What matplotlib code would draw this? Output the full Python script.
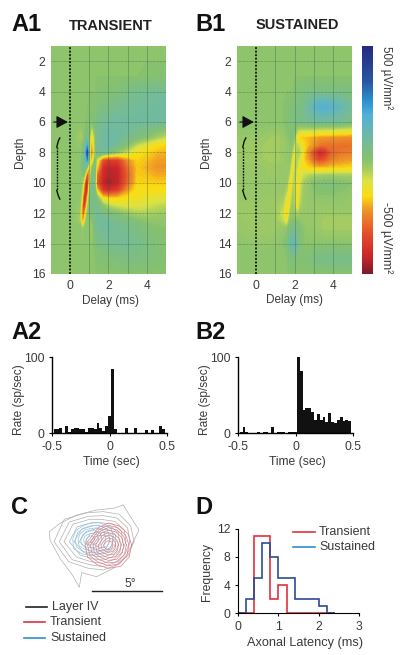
import numpy as np
import matplotlib
matplotlib.use('Agg')
import matplotlib.pyplot as plt
from matplotlib.colors import LinearSegmentedColormap, Normalize
from matplotlib.cm import ScalarMappable

plt.rcParams['font.family'] = ['Liberation Sans', 'DejaVu Sans']
plt.rcParams['text.color'] = '#3a3a3a'
plt.rcParams['xtick.labelcolor'] = '#3a3a3a'
plt.rcParams['ytick.labelcolor'] = '#3a3a3a'

W, H = 400, 655

# CSD maps (uV/mm2), rows = depth, columns = delay
depth = [1, 2, 3, 4, 5, 6, 7, 7.5, 8, 8.5, 9, 9.5, 10, 10.5, 11, 11.5, 12, 12.5, 13, 14, 15, 16]

delay_a = [-1, 0, .5, .6, .7, .8, .9, 1.0, 1.1, 1.2, 1.3, 1.4, 1.7, 2, 2.5, 3, 3.5, 4, 4.5, 5]
csd_a = [
    [0, 0, 0, 0, 0, 0, 0, 0, 0, 0, 0, 0, 0, 0, 0, 0, 0, 0, 0, 0],
    [0, 0, 0, 0, 0, 0, 0, 0, 0, 0, 0, 0, 0, 0, 0, 0, 0, 0, 0, 0],
    [0, 0, 0, 0, 0, 0, 0, 0, 0, 0, 0, 0, 0, 0, 0, 0, 0, 5, 10, 10],
    [0, 0, 0, 0, 0, 0, 0, 0, 0, 0, 0, 5, 10, 15, 25, 45, 60, 65, 70, 70],
    [0, 0, 0, 0, 0, 0, 0, 5, 5, 5, 10, 15, 35, 45, 60, 70, 80, 85, 90, 90],
    [0, 0, 0, 0, 0, 0, 5, 10, 15, 20, 30, 50, 70, 85, 90, 90, 85, 85, 85, 80],
    [0, 0, -40, -50, -20, 20, 60, -30, -160, -130, -20, 60, 90, 100, 90, 60, 30, 0, -40, -70],
    [0, 0, -20, -10, 10, 80, 200, -40, -200, -170, -30, 70, 90, 100, 60, 0, -70, -110, -150, -170],
    [0, 0, 0, 0, 20, 150, 380, -30, -270, -200, -30, 70, 70, 40, -20, -80, -140, -170, -190, -195],
    [0, 0, 0, 0, 50, 130, 250, -90, -210, -120, 10, -90, -320, -370, -360, -230, -170, -185, -210, -215],
    [0, 0, 0, 10, 60, 60, -70, -220, -60, 20, 30, -170, -400, -430, -420, -280, -180, -200, -220, -220],
    [0, 0, 0, -20, 20, -160, -370, -230, -10, 50, 0, -280, -410, -440, -430, -300, -175, -185, -200, -200],
    [0, 0, 0, -30, -120, -380, -470, -160, 30, 60, -20, -320, -430, -460, -430, -290, -165, -170, -175, -175],
    [0, 0, 0, -40, -220, -440, -380, -70, 40, 60, 20, -170, -370, -400, -360, -220, -150, -150, -150, -150],
    [0, 0, -10, -90, -360, -420, -220, -10, 40, 50, 50, 10, -150, -180, -175, -150, -135, -125, -115, -105],
    [0, 0, -20, -170, -420, -320, -90, 10, 40, 50, 60, 40, -10, -60, -90, -100, -100, -90, -70, -60],
    [0, 0, -40, -210, -320, -160, -20, 10, 30, 40, 60, 70, 50, 30, 0, -30, -50, -50, -40, -30],
    [0, 0, -40, -190, -200, -60, 0, 0, -30, 10, 50, 70, 80, 70, 50, 30, 10, -10, -10, -10],
    [0, 0, 0, -30, -30, 0, 0, 0, -50, -10, 40, 60, 80, 85, 70, 60, 40, 20, 10, 0],
    [0, 0, 0, 0, 0, 0, 0, 0, -20, 0, 10, 30, 50, 60, 70, 70, 60, 40, 20, 10],
    [0, -10, 0, 0, 0, 0, 0, 0, -10, 0, 0, 10, 15, 20, 30, 40, 40, 30, 20, 10],
    [0, 0, 0, 0, 0, 0, 0, 0, 0, 0, 0, 0, 0, 0, 0, 0, 0, 0, 0, 0],
]

delay_b = [-1, 0, 1, 1.4, 1.6, 1.7, 1.8, 1.9, 2, 2.1, 2.2, 2.3, 2.5, 2.7, 3, 3.3, 3.6, 4, 4.5, 5]
csd_b = [
    [0, 0, 0, 0, 0, 0, 0, 0, 0, 0, 0, 0, 0, 0, 0, 0, 0, 0, 0, 0],
    [0, 0, 0, 0, 0, 0, 0, 0, 0, 0, 0, 0, 0, 0, 0, 0, 0, 0, 0, 0],
    [0, 0, 0, 0, 0, 0, 0, 0, 0, 0, 0, 0, 0, 0, 0, 0, 0, 0, 0, 0],
    [0, 0, 0, 0, 0, 0, 0, 0, 10, 15, 20, 25, 30, 35, 40, 40, 40, 40, 40, 40],
    [0, 0, 0, 0, 10, 15, 20, 25, 35, 40, 45, 50, 60, 90, 150, 190, 190, 170, 120, 70],
    [0, 0, 0, 0, 10, 15, 20, 25, 40, 45, 50, 50, 50, 60, 70, 70, 70, 70, 60, 40],
    [-20, -20, -40, -30, -10, 0, 10, 10, -20, -110, -170, -175, -180, -190, -205, -215, -220, -225, -230, -235],
    [-30, -30, -40, -30, -20, -10, 0, -10, -100, -60, -70, -110, -160, -190, -225, -260, -270, -270, -270, -270],
    [-30, -30, -40, -30, -20, -10, -10, -70, -170, -50, -40, -70, -175, -240, -350, -430, -390, -290, -265, -255],
    [-30, -30, -40, -30, -20, -10, -30, -140, -130, -50, -80, -110, -175, -210, -290, -340, -310, -250, -225, -215],
    [-20, -20, -30, -20, -20, -20, -80, -175, -70, -60, -130, -130, -145, -170, -185, -190, -190, -180, -175, -165],
    [-20, -20, -30, -20, -20, -40, -140, -150, -50, -90, -150, -100, -80, -60, -50, -40, -40, -40, -40, -40],
    [-20, -20, -20, -20, -30, -100, -180, -80, -60, -110, -170, -90, -40, -20, 10, 20, 25, 25, 10, 0],
    [-20, -20, -20, -20, -60, -150, -160, -50, -50, -130, -170, -80, -30, -20, 0, 10, 10, 10, 0, -10],
    [-20, -20, -30, -40, -110, -170, -100, -40, -50, -140, -160, -70, -30, -20, -10, -10, -10, -10, -10, -20],
    [-30, -30, -30, -60, -150, -160, -60, -30, -40, -130, -140, -50, -30, -20, -20, -20, -20, -20, -20, -20],
    [-30, -30, -30, -90, -170, -120, -30, -20, -30, -50, -50, -30, -20, -20, -20, -30, -30, -30, -30, -30],
    [-20, -30, -30, -70, -150, -50, 0, 10, 10, 0, 0, -10, -20, -20, -20, -30, -40, -40, -40, -40],
    [-20, -30, -30, -20, -10, 20, 40, 50, 50, 40, 30, 10, -10, -20, -20, -30, -40, -40, -40, -40],
    [0, -20, -10, 0, 20, 60, 100, 120, 110, 90, 50, 20, 0, 0, 0, 0, 0, 0, 0, 0],
    [0, 0, 0, 0, 0, 10, 20, 30, 30, 20, 10, 10, 10, 20, 40, 50, 55, 55, 55, 50],
    [0, 0, 0, 0, 0, 0, 0, 0, 0, 0, 0, 0, 0, 0, 0, 0, 0, 0, 0, 0],
]

# PSTH, 40 bins of 25 ms
psth_a = [5, 5, 7, 1, 10, 2, 5, 7, 7, 5, 5, 2, 7, 7, 5, 13, 7, 3, 10, 23,
          85, 5, 1, 1, 1, 7, 1, 1, 7, 1, 1, 1, 4, 1, 4, 1, 1, 10, 5, 0]
psth_b = [2, 8, 2, 0, 0, 0, 2, 0, 2, 2, 0, 8, 0, 2, 2, 2, 0, 2, 2, 2,
          100, 82, 30, 33, 33, 28, 18, 26, 18, 21, 15, 27, 15, 13, 18, 21, 16, 18, 16, 0]

# panel C, ring radii at 12 directions (clockwise from the right), zoomed crop units
ring_angles = [0, 30, 60, 90, 120, 150, 180, 210, 240, 270, 300, 330]
layer4_outer_x = [250, 268, 297, 280, 260, 220, 170, 125, 118, 97, 60, 30, 28, 60, 110, 170, 220]
layer4_outer_y = [15, 45, 90, 125, 165, 205, 230, 218, 262, 225, 175, 120, 95, 70, 45, 30, 25]
layer4_center = (190, 125)
layer4_rings = [
    [92, 85, 80, 85, 92, 120, 148, 135, 100, 90, 95, 95],
    [80, 75, 72, 75, 80, 108, 132, 118, 88, 78, 82, 84],
    [68, 64, 62, 65, 70, 93, 118, 105, 78, 66, 70, 72],
    [58, 55, 53, 55, 60, 80, 102, 90, 66, 56, 60, 62],
    [48, 46, 44, 46, 50, 66, 88, 75, 56, 46, 50, 52],
    [38, 37, 35, 37, 40, 52, 72, 60, 45, 37, 40, 42],
    [28, 28, 26, 28, 30, 38, 55, 46, 34, 28, 30, 32],
    [18, 18, 17, 18, 20, 25, 38, 30, 22, 18, 20, 22],
]
transient_center = (205, 135)
transient_rings = [
    [70, 72, 74, 70, 68, 72, 70, 56, 60, 66, 66, 68],
    [62, 64, 66, 62, 60, 64, 62, 50, 54, 59, 59, 60],
    [54, 56, 58, 54, 52, 56, 54, 44, 48, 52, 52, 53],
    [46, 48, 50, 46, 44, 48, 46, 38, 41, 45, 45, 46],
    [38, 40, 41, 38, 36, 40, 38, 32, 34, 37, 37, 38],
    [30, 32, 32, 30, 28, 32, 30, 25, 27, 29, 29, 30],
    [22, 23, 23, 22, 20, 23, 22, 18, 19, 21, 21, 22],
    [14, 14, 14, 14, 13, 14, 14, 11, 12, 13, 13, 14],
]
sustained_center = (150, 118)
sustained_rings = [
    [72, 66, 52, 48, 50, 56, 52, 50, 46, 48, 58, 72],
    [60, 56, 44, 40, 42, 47, 44, 42, 39, 40, 49, 60],
    [48, 45, 36, 33, 34, 38, 36, 34, 32, 32, 40, 48],
    [36, 34, 28, 25, 26, 29, 28, 26, 24, 25, 30, 36],
    [25, 23, 19, 17, 18, 20, 19, 18, 16, 17, 21, 25],
    [14, 13, 11, 10, 10, 12, 11, 10, 9, 10, 12, 14],
]

# panel D
latency_edges = [0, .2, .4, .6, .8, 1.0, 1.2, 1.4, 1.6, 1.8, 2.0, 2.2, 2.4]
transient_counts = [0, 0, 11, 11, 2, 4, 0, 0, 0, 0, 0, 0]
sustained_counts = [0, 2, 5, 10, 8, 5, 5, 2, 2, 2, 1, 0]

red = '#e0323c'
blue_leg = '#2a8fd0'
blue_hist = '#2b4c9b'

cmap = LinearSegmentedColormap.from_list('csd', [
    (0.00, '#7a1c2a'), (0.08, '#cc262a'), (0.18, '#e4502a'), (0.28, '#ee9428'),
    (0.34, '#fbdc10'), (0.41, '#dbe244'), (0.47, '#9cc966'), (0.51, '#85c070'),
    (0.60, '#6fb9a4'), (0.70, '#52b0d8'), (0.76, '#2a90d0'), (0.85, '#2a55a0'),
    (1.00, '#242a80')])
norm = Normalize(-500, 500)


def px_axes(x0, y0, x1, y1):
    return fig.add_axes([x0/W, 1-y1/H, (x1-x0)/W, (y1-y0)/H])


def csd_panel(x0, delay, csd):
    ax = px_axes(x0, 46, x0+115, 274)
    ax.contourf(delay, depth, csd, levels=np.linspace(-500, 500, 121), cmap=cmap, norm=norm, extend='both')
    ax.set_xlim(-1, 5)
    ax.set_ylim(16, 1)
    ax.set_xticks([0, 2, 4])
    ax.set_yticks(range(2, 17, 2))
    ax.tick_params(length=0, labelsize=8.7, pad=4)
    for d in [1, 2, 3, 4]:
        ax.axvline(d, color='#2f6040', lw=0.5, alpha=0.5)
    for d in range(2, 16, 2):
        ax.axhline(d, color='#2f6040', lw=0.5, ls=(0, (1, 1)), alpha=0.7)
    ax.axvline(0, color='black', lw=1.1, ls=(0, (1.3, 1)))
    for s in ax.spines.values():
        s.set_visible(False)
    # arrow at depth 6 and brace over layer IV
    ax.annotate('', xy=(-0.12, 6), xytext=(-0.85, 6), annotation_clip=False,
                arrowprops=dict(arrowstyle='-|>,head_length=0.7,head_width=0.38', color='#111111', lw=0.8, shrinkA=0, shrinkB=0))
    ax.plot([-0.7, -0.7], [7.65, 10.5], color='#111111', lw=1.0, ls=(0, (1.3, 0.8)))
    ax.plot([-0.54, -0.62, -0.7], [7.05, 7.25, 7.65], color='#111111', lw=1.0)
    ax.plot([-0.7, -0.62, -0.54], [10.5, 10.85, 11.07], color='#111111', lw=1.0)
    return ax


def psth_panel(x0, vals):
    ax = px_axes(x0, 357.3, x0+114.4, 433.3)
    edges = np.linspace(-0.5, 0.5, 41) + 0.012
    ax.bar(edges[:-1], vals, width=0.025, align='edge', color='#111111', lw=0)
    ax.set_xlim(-0.5, 0.5)
    ax.set_ylim(0, 100)
    ax.set_xticks([-0.5, 0, 0.5], ['-0.5', '0', '0.5'])
    ax.set_yticks([0, 100])
    ax.tick_params(labelsize=8.7, length=2.5, width=0.8, pad=3)
    ax.spines[['top', 'right']].set_visible(False)
    for s in ['left', 'bottom']:
        ax.spines[s].set_linewidth(1.0)
    ax.patch.set_alpha(0)
    return ax


fig = plt.figure(figsize=(W/100, H/100), dpi=100)

ax_a1 = csd_panel(51, delay_a, csd_a)
ax_b1 = csd_panel(237, delay_b, csd_b)

# colour bar
cax = px_axes(361.7, 46, 373.3, 274)
cb = fig.colorbar(ScalarMappable(norm=norm, cmap=cmap), cax=cax)
cb.set_ticks([])
cb.outline.set_visible(False)

ax_a2 = psth_panel(52.3, psth_a)
ax_b2 = psth_panel(238.3, psth_b)

# panel C
ax_c = px_axes(40, 500, 150, 590)
ax_c.set_xlim(0, 330)
ax_c.set_ylim(270, 0)
ax_c.axis('off')
ax_c.fill(layer4_outer_x, layer4_outer_y, fill=False, ec='#b0b0b0', lw=0.5)


def draw_rings(rings, center, color):
    th = np.deg2rad(ring_angles + [360])
    for r in rings:
        rr = np.array(r + [r[0]])
        ax_c.plot(center[0] + rr*np.cos(th), center[1] + rr*np.sin(th), color=color, lw=0.5)


draw_rings(layer4_rings, layer4_center, '#b0b0b0')
draw_rings(sustained_rings, sustained_center, '#8cc8e4')
draw_rings(transient_rings, transient_center, '#dc8088')

# panel D
ax_d = px_axes(238, 528.7, 359.3, 613.3)
ax_d.stairs(transient_counts, latency_edges, color=red, lw=1.2)
ax_d.stairs(sustained_counts, latency_edges, color=blue_hist, lw=1.2)
ax_d.set_xlim(0, 3)
ax_d.set_ylim(0, 12)
ax_d.set_xticks([0, 1, 2, 3])
ax_d.set_yticks([0, 4, 8, 12])
ax_d.tick_params(labelsize=8.7, length=2.5, width=0.8, pad=3)
ax_d.spines[['top', 'right']].set_visible(False)

# overlay in reference pixels for labels, legends and scale bar
ov = fig.add_axes([0, 0, 1, 1])
ov.set_xlim(0, W)
ov.set_ylim(H, 0)
ov.axis('off')
ov.patch.set_alpha(0)

for s, x, y in [('A1', 11, 31), ('B1', 195, 31), ('A2', 11, 339), ('B2', 195, 339), ('C', 11, 514), ('D', 195, 514)]:
    ov.text(x, y, s, fontsize=17, fontweight='bold', color='#111111', ha='left', va='baseline')
ov.text(111, 30, 'TRANSIENT', fontsize=10.5, fontweight='bold', ha='center', va='baseline', color='#222222')
ov.text(297, 29, 'SUSTAINED', fontsize=10.5, fontweight='bold', ha='center', va='baseline', color='#222222')

for x in [20, 206]:
    ov.text(x, 152, 'Depth', fontsize=8.5, rotation=90, ha='center', va='center')
    ov.text(x-1, 400, 'Rate (sp/sec)', fontsize=8.6, rotation=90, ha='center', va='center')
ov.text(110, 301, 'Delay (ms)', fontsize=8.5, ha='center', va='center')
ov.text(295, 300, 'Delay (ms)', fontsize=8.5, ha='center', va='center')
ov.text(111, 462, 'Time (sec)', fontsize=8.7, ha='center', va='center')
ov.text(297, 462, 'Time (sec)', fontsize=8.7, ha='center', va='center')
ov.text(207, 572, 'Frequency', fontsize=8.8, rotation=90, ha='center', va='center')
ov.text(305, 643, 'Axonal Latency (ms)', fontsize=9.2, ha='center', va='center')

ov.text(386, 46, '500 µV/mm²', fontsize=8.3, rotation=-90, ha='center', va='top')
ov.text(386, 202, '-500 µV/mm²', fontsize=8.8, rotation=-90, ha='center', va='top')

# scale bar
ov.plot([92, 162], [590.7, 590.7], color='#222222', lw=1.0)
ov.text(130, 584, '5°', fontsize=8.7, ha='center', va='center')

# panel C legend
for lab, col, x0, y in [('Layer IV', '#222222', 25.7, 607), ('Transient', red, 24, 622), ('Sustained', blue_leg, 24, 638)]:
    ov.plot([x0, x0+21], [y, y], color=col, lw=1.2)
    ov.text(x0+26, y, lab, fontsize=9, ha='left', va='center')

# panel D legend
for lab, col, y in [('Transient', red, 532), ('Sustained', blue_leg, 546.7)]:
    ov.plot([293, 315], [y, y], color=col, lw=1.2)
    ov.text(319, y, lab, fontsize=9, ha='left', va='center')

fig.savefig('out.png', dpi=100)
